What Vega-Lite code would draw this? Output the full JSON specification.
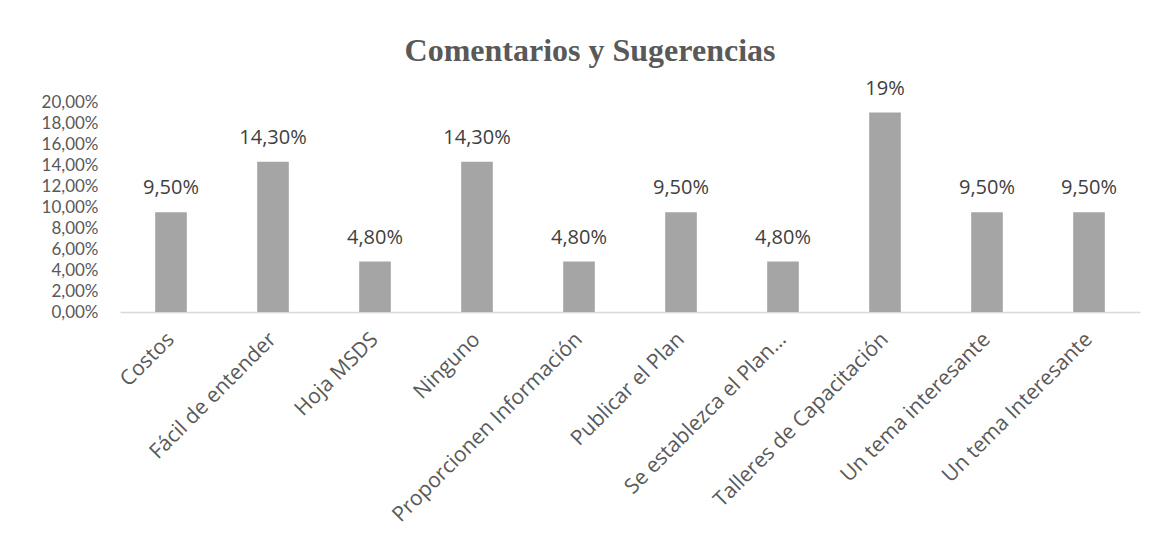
{
  "$schema": "https://vega.github.io/schema/vega-lite/v6.json",
  "autosize": {"type": "none"},
  "width": 1020,
  "height": 210,
  "padding": {"left": 120, "top": 102, "right": 26, "bottom": 227},
  "background": "white",
  "title": {
    "text": "Comentarios y Sugerencias",
    "font": "Liberation Serif",
    "fontSize": 32,
    "fontWeight": "bold",
    "color": "#595959",
    "anchor": "middle",
    "frame": "group",
    "dx": -40,
    "offset": 11
  },
  "config": {
    "view": {"stroke": null}
  },
  "data": {
    "values": [
      {"categoria": "Costos", "valor": 0.095, "etiqueta": "9,50%"},
      {"categoria": "Fácil de entender", "valor": 0.143, "etiqueta": "14,30%"},
      {"categoria": "Hoja MSDS", "valor": 0.048, "etiqueta": "4,80%"},
      {"categoria": "Ninguno", "valor": 0.143, "etiqueta": "14,30%"},
      {"categoria": "Proporcionen Información", "valor": 0.048, "etiqueta": "4,80%"},
      {"categoria": "Publicar el Plan", "valor": 0.095, "etiqueta": "9,50%"},
      {"categoria": "Se establezca el Plan…", "valor": 0.048, "etiqueta": "4,80%"},
      {"categoria": "Talleres de Capacitación", "valor": 0.19, "etiqueta": "19%"},
      {"categoria": "Un tema interesante", "valor": 0.095, "etiqueta": "9,50%"},
      {"categoria": "Un tema Interesante", "valor": 0.095, "etiqueta": "9,50%"}
    ]
  },
  "encoding": {
    "x": {
      "field": "categoria",
      "type": "nominal",
      "sort": null,
      "scale": {"paddingInner": 0.69, "paddingOuter": 0.345},
      "axis": {
        "title": null,
        "labelAngle": -45,
        "labelAlign": "right",
        "labelBaseline": "middle",
        "labelFont": "Open Sans",
        "labelFontSize": 21,
        "labelColor": "#595959",
        "labelPadding": 24,
        "ticks": false,
        "domainColor": "#d9d9d9",
        "domainWidth": 1.5,
        "labelLimit": 400
      }
    },
    "y": {
      "field": "valor",
      "type": "quantitative",
      "scale": {"domain": [0, 0.2], "nice": false},
      "axis": {
        "title": null,
        "labelExpr": "replace(format(datum.value, '.2%'), '.', ',')",
        "values": [0, 0.02, 0.04, 0.06, 0.08, 0.1, 0.12, 0.14, 0.16, 0.18, 0.2],
        "labelFont": "Lato",
        "labelFontSize": 17,
        "labelColor": "#595959",
        "labelPadding": 22,
        "ticks": false,
        "domain": false,
        "grid": false
      }
    }
  },
  "layer": [
    {"mark": {"type": "bar", "color": "#a5a5a5"}},
    {
      "mark": {"type": "text", "dy": -18, "baseline": "alphabetic", "font": "Open Sans", "fontSize": 20, "color": "#404040"},
      "encoding": {"text": {"field": "etiqueta"}}
    }
  ]
}
